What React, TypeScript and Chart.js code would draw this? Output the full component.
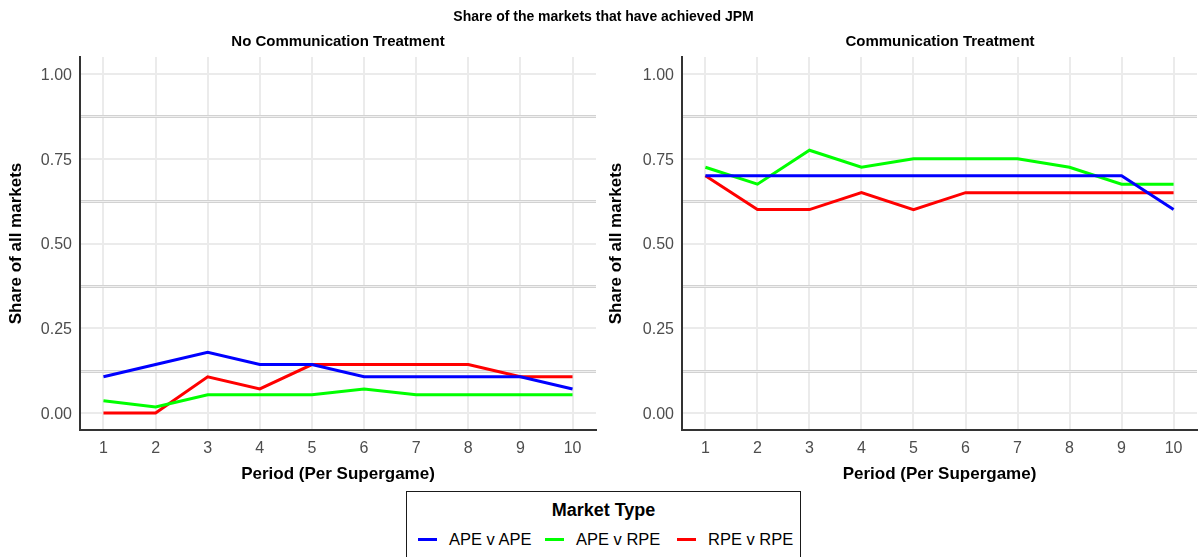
import React, { useEffect, useRef } from "react";
import { Chart, registerables } from "chart.js";

Chart.register(...registerables);

// Period within each supergame
const periods = [1, 2, 3, 4, 5, 6, 7, 8, 9, 10];

// Market types, in legend order
const marketTypes = ["APE v APE", "APE v RPE", "RPE v RPE"];
const marketColors = ["#0000ff", "#00ff00", "#ff0000"];

// Share of markets at JPM, no communication treatment
const noCommApeApe = [0.107, 0.143, 0.179, 0.143, 0.143, 0.107, 0.107, 0.107, 0.107, 0.071];
const noCommApeRpe = [0.036, 0.018, 0.054, 0.054, 0.054, 0.071, 0.054, 0.054, 0.054, 0.054];
const noCommRpeRpe = [0.0, 0.0, 0.107, 0.071, 0.143, 0.143, 0.143, 0.143, 0.107, 0.107];

// Share of markets at JPM, communication treatment
const commApeApe = [0.7, 0.7, 0.7, 0.7, 0.7, 0.7, 0.7, 0.7, 0.7, 0.6];
const commApeRpe = [0.725, 0.675, 0.775, 0.725, 0.75, 0.75, 0.75, 0.725, 0.675, 0.675];
const commRpeRpe = [0.7, 0.6, 0.6, 0.65, 0.6, 0.65, 0.65, 0.65, 0.65, 0.65];

// Axis breaks
const yMajorTicks = [0, 0.25, 0.5, 0.75, 1.0];
const yMinorTicks = [0.125, 0.375, 0.625, 0.875];

const FONT = "'Liberation Sans', Arial, Helvetica, sans-serif";

const minorGridPlugin = {
  id: "minorGrid",
  beforeDatasetsDraw(chart: any) {
    const { ctx, chartArea, scales } = chart;
    const y = scales.y;
    const left = chartArea.left + 1;
    const width = chartArea.right - left;
    ctx.save();
    for (const v of yMinorTicks) {
      const py = Math.round(y.getPixelForValue(v));
      ctx.fillStyle = "#efefef";
      ctx.fillRect(left, py - 1, width, 3);
      ctx.fillStyle = "#d2d2d2";
      ctx.fillRect(left, py - 1, width, 1);
      ctx.fillRect(left, py + 1, width, 1);
    }
    ctx.restore();
  },
};

function makeConfig(series: number[][], yAxisWidth: number, rightPad: number) {
  return {
    type: "line" as const,
    data: {
      datasets: series.map((vals, i) => ({
        label: marketTypes[i],
        data: periods.map((p, j) => ({ x: p, y: vals[j] })),
        borderColor: marketColors[i],
        backgroundColor: marketColors[i],
        borderWidth: 3,
        pointRadius: 0,
        tension: 0,
        fill: false,
      })),
    },
    options: {
      animation: false as const,
      responsive: false,
      maintainAspectRatio: false,
      layout: { padding: { top: 57, left: 0, right: rightPad, bottom: 0 } },
      plugins: {
        legend: { display: false },
        tooltip: { enabled: false },
        title: { display: false },
      },
      scales: {
        x: {
          type: "linear" as const,
          min: 0.55,
          max: 10.45,
          afterBuildTicks: (s: any) => {
            s.ticks = periods.map((p) => ({ value: p }));
          },
          afterFit: (s: any) => {
            s.height = 60;
          },
          grid: { color: "#ebebeb", lineWidth: 2, drawTicks: false },
          border: { display: true, color: "#333333", width: 2 },
          ticks: {
            color: "#4d4d4d",
            padding: 9,
            font: { family: FONT, size: 16 },
            maxRotation: 0,
            autoSkip: false,
            callback: (v: any) => String(v),
          },
          title: {
            display: true,
            text: "Period (Per Supergame)",
            color: "#000000",
            font: { family: FONT, size: 17, weight: "bold" as const },
            padding: { top: 0, bottom: 5 },
          },
        },
        y: {
          type: "linear" as const,
          min: -0.05,
          max: 1.05,
          afterBuildTicks: (s: any) => {
            s.ticks = yMajorTicks.map((v) => ({ value: v }));
          },
          afterFit: (s: any) => {
            s.width = yAxisWidth;
          },
          grid: { color: "#ebebeb", lineWidth: 2, drawTicks: false },
          border: { display: true, color: "#333333", width: 2 },
          ticks: {
            color: "#4d4d4d",
            padding: 8,
            labelOffset: 1.5,
            font: { family: FONT, size: 16 },
            callback: (v: any) => Number(v).toFixed(2),
          },
          title: {
            display: true,
            text: "Share of all markets",
            color: "#000000",
            font: { family: FONT, size: 17, weight: "bold" as const },
            padding: { top: 6, bottom: 0 },
          },
        },
      },
    },
    plugins: [minorGridPlugin],
  };
}

function Panel(props: {
  series: number[][];
  left: number;
  width: number;
  yAxisWidth: number;
  rightPad: number;
}) {
  const ref = useRef<HTMLCanvasElement | null>(null);
  useEffect(() => {
    if (!ref.current) return;
    const chart = new Chart(ref.current, makeConfig(props.series, props.yAxisWidth, props.rightPad) as any);
    return () => chart.destroy();
  }, []);
  return (
    <canvas
      ref={ref}
      width={props.width}
      height={490}
      style={{ position: "absolute", left: props.left, top: 0, width: props.width, height: 490 }}
    />
  );
}

const textBase: React.CSSProperties = {
  position: "absolute",
  fontFamily: FONT,
  fontWeight: "bold",
  color: "#000",
  whiteSpace: "nowrap",
  transform: "translate(-50%, -50%)",
  lineHeight: 1,
};

const swatchLeft = [11, 138, 270];
const labelLeft = [42, 169, 301];

export default function App() {
  return (
    <div
      style={{
        position: "fixed",
        left: 0,
        top: 0,
        width: 1198,
        height: 557,
        background: "#ffffff",
        overflow: "hidden",
      }}
    >
      <Panel series={[noCommApeApe, noCommApeRpe, noCommRpeRpe]} left={0} width={600} yAxisWidth={80} rightPad={4} />
      <Panel series={[commApeApe, commApeRpe, commRpeRpe]} left={600} width={598} yAxisWidth={82} rightPad={1} />

      <div style={{ ...textBase, left: 603.5, top: 16, fontSize: 14 }}>Share of the markets that have achieved JPM</div>
      <div style={{ ...textBase, left: 338, top: 40, fontSize: 15 }}>No Communication Treatment</div>
      <div style={{ ...textBase, left: 940, top: 40, fontSize: 15 }}>Communication Treatment</div>

      <div
        style={{
          position: "absolute",
          left: 406,
          top: 491,
          width: 393,
          height: 80,
          border: "1.5px solid #1a1a1a",
          fontFamily: FONT,
        }}
      >
        <div
          style={{
            position: "absolute",
            left: 0,
            width: "100%",
            top: 8,
            textAlign: "center",
            fontSize: 18,
            fontWeight: "bold",
            lineHeight: "20px",
          }}
        >
          Market Type
        </div>
        {marketTypes.map((name, i) => (
          <React.Fragment key={name}>
            <span
              style={{
                position: "absolute",
                left: swatchLeft[i],
                top: 46,
                width: 19,
                height: 3,
                background: marketColors[i],
              }}
            />
            <span
              style={{
                position: "absolute",
                left: labelLeft[i],
                top: 37,
                fontSize: 16.5,
                lineHeight: "20px",
                color: "#000",
                whiteSpace: "nowrap",
              }}
            >
              {name}
            </span>
          </React.Fragment>
        ))}
      </div>
    </div>
  );
}
